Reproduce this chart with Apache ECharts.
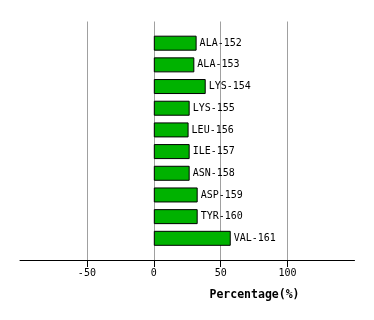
<!DOCTYPE html>
<html><head><meta charset="utf-8">
<script src="https://cdn.jsdelivr.net/npm/echarts@6/dist/echarts.min.js"></script>
<style>html,body{margin:0;padding:0;background:#fff}#c{width:374px;height:320px}</style>
</head><body><div id="c"></div>
<script>
const categories = ['ALA-152','ALA-153','LYS-154','LYS-155','LEU-156','ILE-157','ASN-158','ASP-159','TYR-160','VAL-161'];
const values = [32, 30.3, 38.8, 26.8, 26, 26.8, 26.8, 32.8, 32.8, 57.5];
const tickValues = [-50, 0, 50, 100];
const xTitle = 'Percentage(%)';

const font = 'DejaVu Sans Mono';
const yData = [''].concat(categories, ['']);
const sData = [null].concat(values, [null]);

const chart = echarts.init(document.getElementById('c'), null, {renderer: 'canvas'});
chart.setOption({
  animation: false,
  backgroundColor: '#fff',
  grid: {left: 20, right: 19.5, top: 21.5, bottom: 60, containLabel: false},
  xAxis: {
    type: 'value', min: -100, max: 150, interval: 50,
    axisLine: {show: true, lineStyle: {color: '#000', width: 1}},
    axisTick: {show: true, length: 7, lineStyle: {color: '#000'}, customValues: tickValues},
    axisLabel: {show: true, color: '#000', fontFamily: font, fontSize: 10, margin: 8, customValues: tickValues},
    splitLine: {show: true, showMinLine: true, showMaxLine: true, lineStyle: {color: '#a0a0a0', width: 1}}
  },
  yAxis: {
    type: 'category', data: yData, inverse: true, boundaryGap: false,
    axisLine: {show: false}, axisTick: {show: false}, axisLabel: {show: false}, splitLine: {show: false}
  },
  graphic: [{
    type: 'text', x: 254.5, y: 295,
    style: {text: xTitle, font: 'bold 11.5px "DejaVu Sans Mono"', fill: '#000', textAlign: 'center', textVerticalAlign: 'middle'}
  }],
  series: [{
    type: 'bar', data: sData, barWidth: 15,
    itemStyle: {color: '#00b200', borderColor: '#000', borderWidth: 1},
    label: {show: true, position: 'right', distance: 3, formatter: '{b}', color: '#000', fontFamily: font, fontSize: 10}
  }]
});
</script></body></html>
